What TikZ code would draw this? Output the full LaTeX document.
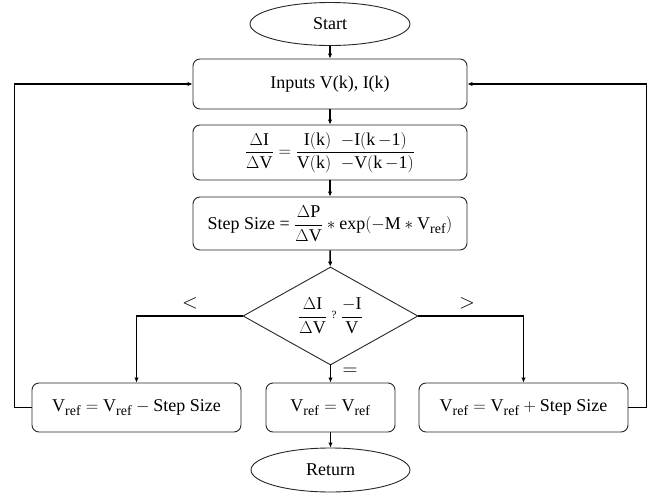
\documentclass[tikz,border=0pt]{standalone}
\usepackage{amsmath}
\usepackage{fontspec}
\setmainfont{Liberation Serif}
\usetikzlibrary{shapes.geometric,arrows.meta}
\newcommand{\myVref}{\mathrm{V}_{\text{\fontsize{14}{14}\selectfont ref}}}
\begin{document}
\begin{tikzpicture}[x=1pt,y=-1pt,
  every node/.style={font=\fontsize{18}{21}\selectfont},
  boxst/.style={draw=black!85, rounded corners=7pt, line width=0.9pt, inner sep=0pt},
  ellst/.style={draw=black!85, ellipse, line width=0.9pt, inner sep=0pt},
  conn/.style={draw=black, line width=1.5pt, -{Latex[length=5pt,width=4.5pt]}},
  lbl/.style={inner sep=0pt, font=\fontsize{22}{24}\selectfont}
  ]
\useasboundingbox (0,0) rectangle (657,493);
\node[ellst, minimum width=160pt, minimum height=43pt] (start) at (330,24) {Start};
\node[boxst, minimum width=274pt, minimum height=50pt] (inp) at (330,84) {Inputs V(k), I(k)};
\node[boxst, minimum width=274pt, minimum height=55pt] (dif) at (330,152.5)
  {$\dfrac{\Delta\mathrm{I}}{\Delta\mathrm{V}} = \dfrac{\mathrm{I(k)}\;\;{-}\mathrm{I(k}\,{-}\mathrm{1)}}{\mathrm{V(k)}\;\;{-}\mathrm{V(k}\,{-}\mathrm{1)}}$};
\node[boxst, minimum width=274pt, minimum height=53pt] (step) at (330,223.5)
  {Step Size = $\dfrac{\Delta\mathrm{P}}{\Delta\mathrm{V}} \ast \mathrm{exp}({-}\mathrm{M}\ast\myVref)$};
\node[diamond, draw=black!85, line width=0.9pt, inner sep=0pt, minimum width=175pt, minimum height=98pt] (dec) at (330.5,316) {};
\node[inner sep=0pt] (dect) at (dec.center) {$\dfrac{\Delta\mathrm{I}}{\Delta\mathrm{V}}\ {\raisebox{3pt}{\fontsize{11}{12}\selectfont ?}}\ \dfrac{-\mathrm{I}}{\mathrm{V}}$};
\node[boxst, minimum width=209pt, minimum height=49pt] (lbox) at (136.5,407.5) {$\myVref = \myVref - \text{Step Size}$};
\node[boxst, minimum width=129pt, minimum height=49pt] (mbox) at (330.5,407.5) {$\myVref = \myVref$};
\node[boxst, minimum width=209pt, minimum height=49pt] (rbox) at (523.5,407.5) {$\myVref = \myVref + \text{Step Size}$};
\node[ellst, minimum width=159pt, minimum height=44pt] (ret) at (330.5,470) {Return};
\node[lbl] (lt) at (190,303) {$<$};
\node[lbl] (gt) at (467,303) {$>$};
\node[lbl] (eq) at (350,372) {$=$};
\draw[conn] (start) -- (inp);
\draw[conn] (inp) -- (dif);
\draw[conn] (dif) -- (step);
\draw[conn] (step) -- (dec);
\draw[conn] (dec) -- (mbox);
\draw[conn] (mbox) -- (ret);
\draw[conn] (dec.west) -| (lbox.north);
\draw[conn] (dec.east) -| (rbox.north);
\draw[conn] (lbox.west) -- ++(-17,0) coordinate (lc) |- (inp.west);
\draw[conn] (rbox.east) -- ++(18,0) coordinate (rc) |- (inp.east);
\end{tikzpicture}
\end{document}
